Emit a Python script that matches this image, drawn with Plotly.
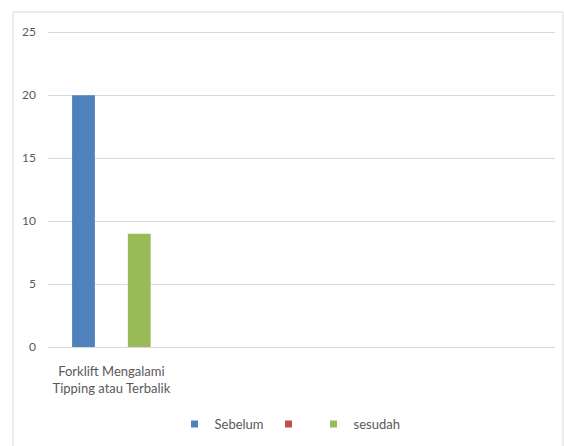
import plotly.graph_objects as go

categories = ["Forklift Mengalami<br>Tipping atau Terbalik"]
series_names = ["Sebelum", "", "sesudah"]
sebelum = [20]
tengah = [0]
sesudah = [9]
colors = ["#4f81bd", "#c0504d", "#9bbb59"]
y_ticks = [0, 5, 10, 15, 20, 25]

font_family = "Lato, Open Sans, sans-serif"
bar_w = 0.18
offsets = [-0.31, -0.09, 0.13]

fig = go.Figure()
for name, vals, col, off in zip(series_names, [sebelum, tengah, sesudah], colors, offsets):
    fig.add_trace(go.Bar(x=categories, y=vals, name=name, marker_color=col,
                         marker_line_width=0, width=bar_w, offset=off, showlegend=False))
    fig.add_trace(go.Scatter(x=[None], y=[None], mode="markers", name=name,
                             marker=dict(symbol="square", size=7, color=col), showlegend=True))

top_pad = 0.5
fig.update_layout(
    width=564, height=446,
    margin=dict(l=48, r=9, t=26, b=99, autoexpand=False),
    paper_bgcolor="white", plot_bgcolor="white",
    font=dict(family=font_family, size=13, color="#595959"),
    barmode="overlay",
    showlegend=True,
    legend=dict(orientation="h", x=(290 - 48) / 507, xanchor="center",
                y=-77 / 321, yanchor="middle",
                font=dict(size=13, color="#595959"), itemwidth=30, tracegroupgap=0),
    xaxis=dict(type="category", range=[-0.5, 3.5], showgrid=False, showline=True,
               linecolor="#d9d9d9", linewidth=1, ticks="", tickfont=dict(size=13),
               ticklabelstandoff=12),
    yaxis=dict(range=[0, 25 + top_pad], tickvals=y_ticks, showgrid=True, gridcolor="#d9d9d9",
               gridwidth=1, zeroline=False, showline=False, ticks="",
               ticklabelstandoff=11, tickfont=dict(size=12)),
    shapes=[dict(type="rect", xref="paper", yref="paper",
                 x0=(13 - 48) / 507, x1=(563 - 48) / 507,
                 y0=(347 - 460) / 321, y1=(347 - 12) / 321,
                 line=dict(color="#d9d9d9", width=1), fillcolor="rgba(0,0,0,0)", layer="below")],
)

fig.write_html("out.html")
